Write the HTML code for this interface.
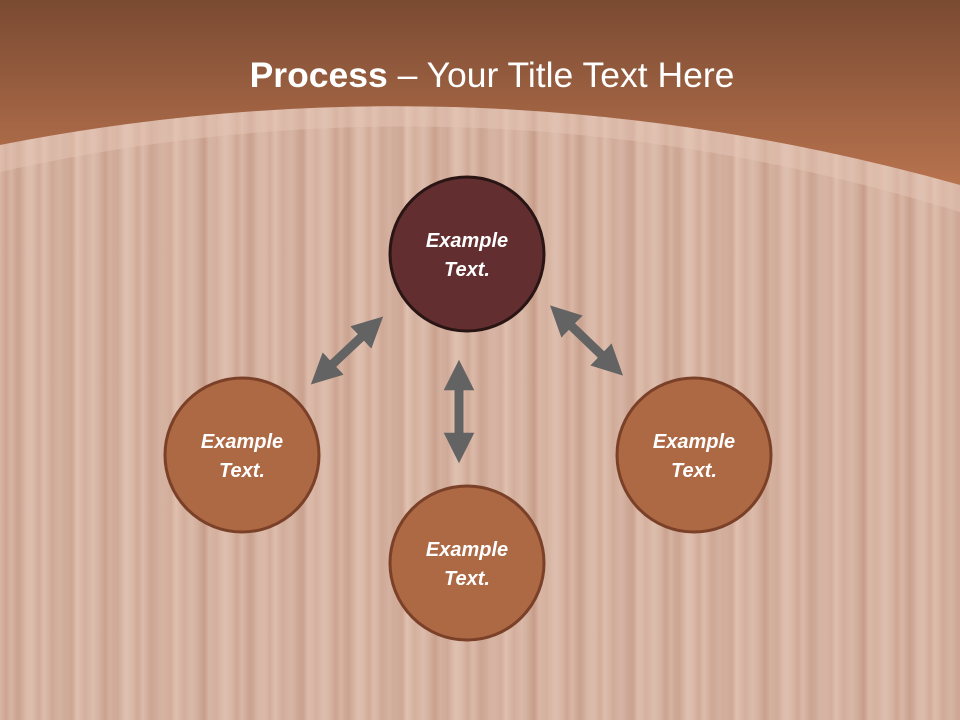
<!DOCTYPE html>
<html><head><meta charset="utf-8"><style>
html,body{margin:0;padding:0}
body{width:960px;height:720px;position:relative;overflow:hidden;font-family:"Liberation Sans",sans-serif;
background:#d7b3a1;}
.wood{position:absolute;inset:0;
background:
repeating-linear-gradient(90deg,rgba(150,70,40,.0) 0px,rgba(150,70,40,.12) 6px,rgba(255,230,215,.12) 11px,rgba(140,60,30,.08) 19px,rgba(255,240,230,.1) 27px,rgba(150,70,40,.0) 33px),
repeating-linear-gradient(90deg,rgba(120,50,25,.0) 0px,rgba(120,50,25,.1) 17px,rgba(255,235,220,.1) 31px,rgba(120,50,25,.0) 47px),
#d8b6a5;}
svg{position:absolute;left:0;top:0}
.t{font-weight:bold;font-style:italic;fill:#fff;font-size:20px;text-anchor:middle}
</style></head><body>
<div class="wood"></div>
<svg width="960" height="720">
<defs>
<linearGradient id="h" x1="0" y1="0" x2="0" y2="1">
<stop offset="0" stop-color="#7a4a32"/><stop offset="1" stop-color="#b8734e"/>
</linearGradient>
<marker id="a" viewBox="0 0 10 10" refX="5" refY="5" markerWidth="3.4" markerHeight="3.4" orient="auto-start-reverse"><path d="M0,0L10,5L0,10z" fill="#636363"/></marker>
</defs>
<path d="M0,145 Q480,51 960,185 L960,0 L0,0Z" fill="url(#h)"/>
<path d="M0,145 Q480,51 960,185 L960,212 Q480,64 0,172Z" fill="rgba(230,200,185,.45)"/>
<text x="492" y="87" font-family="Liberation Sans" font-size="35.5" fill="#fff" text-anchor="middle"><tspan font-weight="bold">Process</tspan> – Your Title Text Here</text>
<g stroke="#636363" stroke-width="9" marker-start="url(#a)" marker-end="url(#a)">
<line x1="322" y1="374" x2="372" y2="327"/>
<line x1="459" y1="375" x2="459" y2="448"/>
<line x1="561" y1="316" x2="612" y2="365"/>
</g>
<circle cx="467" cy="254" r="77" fill="#622e30" stroke="#2a1515" stroke-width="3"/>
<circle cx="242" cy="455" r="77" fill="#ad6844" stroke="#7a4028" stroke-width="3"/>
<circle cx="467" cy="563" r="77" fill="#ad6844" stroke="#7a4028" stroke-width="3"/>
<circle cx="694" cy="455" r="77" fill="#ad6844" stroke="#7a4028" stroke-width="3"/>
<text class="t" x="467" y="247">Example</text><text class="t" x="467" y="276">Text.</text>
<text class="t" x="242" y="448">Example</text><text class="t" x="242" y="477">Text.</text>
<text class="t" x="467" y="556">Example</text><text class="t" x="467" y="585">Text.</text>
<text class="t" x="694" y="448">Example</text><text class="t" x="694" y="477">Text.</text>
</svg>
</body></html>
